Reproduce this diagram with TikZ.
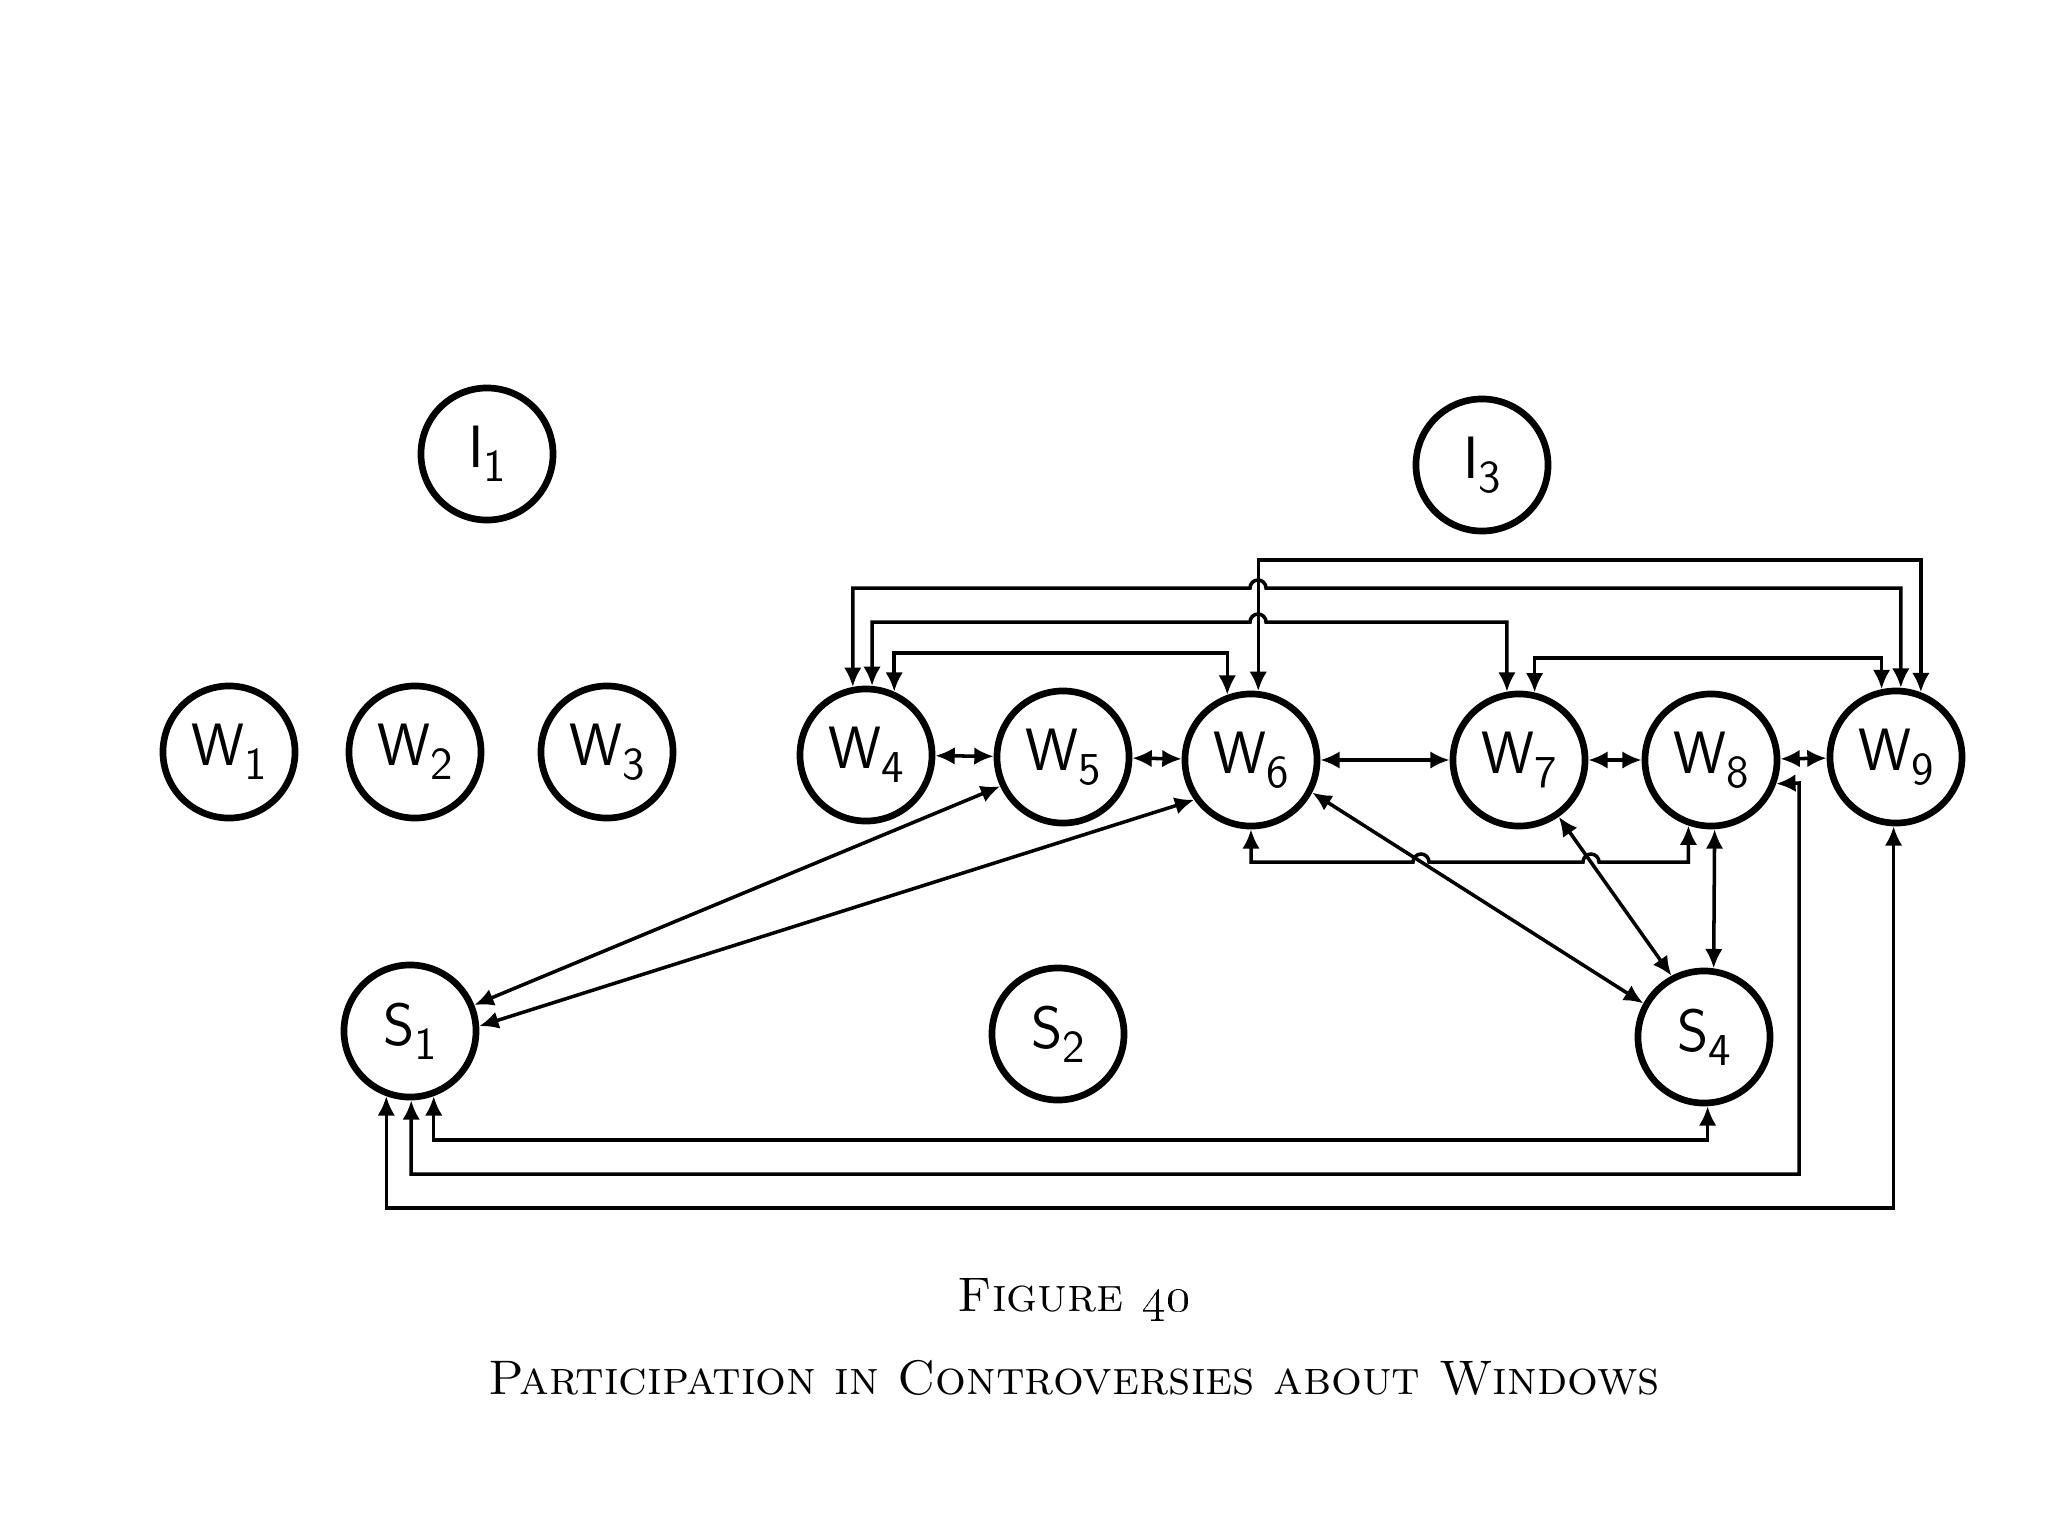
\documentclass[tikz,border=0pt]{standalone}
\usetikzlibrary{arrows.meta}
\newcommand{\lowsub}[1]{\raisebox{-0.55ex}{\fontsize{13}{13}\selectfont#1}}
\begin{document}
\begin{tikzpicture}[x=0.01cm,y=-0.01cm,
  ring/.style={draw,circle,line width=1.9pt,minimum size=1.32cm,inner sep=0pt,font=\sffamily\fontsize{17}{17}\selectfont},
  link/.style={line width=1pt,{Latex[length=5.5pt,width=5pt]}-{Latex[length=5.5pt,width=5pt]}},
  caption/.style={font=\fontsize{13.8}{17}\selectfont}]
\useasboundingbox (0,0) rectangle (2048,1536);
\node[ring] (I1) at (487,454) {I\lowsub{1}};
\node[ring] (I3) at (1482,465) {I\lowsub{3}};
\node[ring] (W1) at (229,752) {W\lowsub{1}};
\node[ring] (W2) at (415,752) {W\lowsub{2}};
\node[ring] (W3) at (607,752) {W\lowsub{3}};
\node[ring] (W4) at (866,755) {W\lowsub{4}};
\node[ring] (W5) at (1063,757) {W\lowsub{5}};
\node[ring] (W6) at (1251,760) {W\lowsub{6}};
\node[ring] (W7) at (1519,760) {W\lowsub{7}};
\node[ring] (W8) at (1711,760) {W\lowsub{8}};
\node[ring] (W9) at (1896,757) {W\lowsub{9}};
\node[ring] (S1) at (410,1031) {S\lowsub{1}};
\node[ring] (S2) at (1058,1034) {S\lowsub{2}};
\node[ring] (S4) at (1704,1037) {S\lowsub{4}};
\draw[link] (W4) -- (W5);
\draw[link] (W5) -- (W6);
\draw[link] (W6) -- (W7);
\draw[link] (W7) -- (W8);
\draw[link] (W8) -- (W9);
\draw[link] (W6.84) -- (W6.84 |- 0,560) -| (W9.69);
\draw[link] (W4.101) -- (W4.101 |- 0,588) -- (1250,588) arc[start angle=180,end angle=360,radius=8] -| (W9.86);
\draw[link] (W4.85) -- (W4.85 |- 0,622) -- (1250,622) arc[start angle=180,end angle=360,radius=8] -| (W7.100);
\draw[link] (W4.66) -- (W4.66 |- 0,653) -| (W6.110);
\draw[link] (W7.77) -- (W7.77 |- 0,658) -| (W9.102);
\draw[link] (W6.south) -- (W6.south |- 0,862) -- (1413,862) arc[start angle=180,end angle=360,radius=8] -- (1583,862) arc[start angle=180,end angle=360,radius=8] -| (W8.251);
\draw[link] (W8.273) -- (S4.82);
\draw[link] (W7.305) -- (S4.118);
\draw[link] (W6.332) -- (S4.151);
\draw[link] (S1.22) -- (W5.205);
\draw[link] (S1.4) -- (W6.215);
\draw[link] (S1.290) -- (S1.290 |- 0,1140) -| (S4.273);
\draw[link] (S1.271) -- (S1.271 |- 0,1174) -| (1799,783) -- (W8.340);
\draw[link] (S1.250) -- (S1.250 |- 0,1208) -| (W9.268);
\node[caption] (fig) at (1074,1300) {\textsc{Figure \oldstylenums{40}}};
\node[caption] (title) at (1074,1378) {\textsc{Participation in Controversies about Windows}};
\end{tikzpicture}
\end{document}
